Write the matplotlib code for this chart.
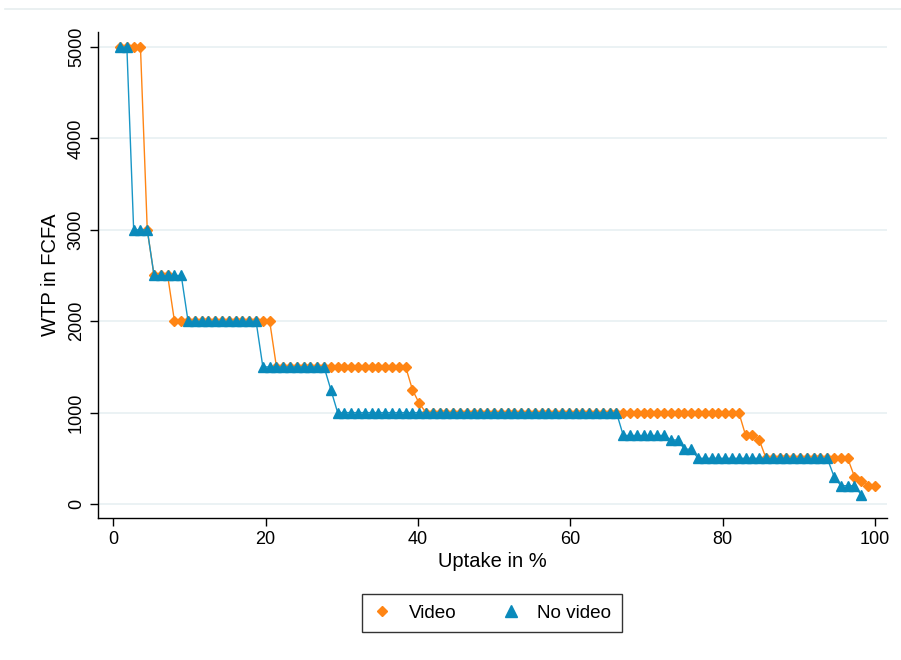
import numpy as np
import matplotlib.pyplot as plt
from matplotlib.lines import Line2D

plt.rcParams['font.family'] = ['Liberation Sans', 'DejaVu Sans']

# WTP levels (FCFA) and number of respondents at each level, sorted high to low
video_wtp = [5000, 3000, 2500, 2000, 1500, 1250, 1100, 1000, 750, 700, 500, 300, 250, 200]
video_n = [4, 1, 3, 15, 20, 1, 1, 47, 2, 1, 13, 1, 1, 2]

novideo_wtp = [5000, 3000, 2500, 2000, 1500, 1250, 1000, 750, 700, 600, 500, 300, 200, 100]
novideo_n = [2, 3, 5, 11, 10, 1, 42, 7, 2, 2, 20, 1, 3, 1]

sample_size = 112

ORANGE = '#ff8514'
BLUE = '#0a8abb'
BLUE_LINE = '#1896c6'


def demand_curve(levels, counts, total):
    wtp = np.repeat(levels, counts)
    uptake = np.arange(1, len(wtp) + 1) * 100.0 / total
    return uptake, wtp


x_v, y_v = demand_curve(video_wtp, video_n, sample_size)
x_nv, y_nv = demand_curve(novideo_wtp, novideo_n, sample_size)

fig = plt.figure(figsize=(9.01, 6.6), dpi=100)
ax = fig.add_axes([0.1088, 0.2152, 0.8757, 0.7363])

ax.plot(x_v, y_v, color=ORANGE, lw=1.0, marker='D', ms=5.5,
        mec=ORANGE, mfc=ORANGE, label='Video', zorder=3)
ax.plot(x_nv, y_nv, color=BLUE_LINE, lw=1.0, marker='^', ms=7.5,
        mec=BLUE, mfc=BLUE, label='No video', zorder=4)

ax.set_xlim(-2.0, 101.6)
ax.set_ylim(-153, 5164)
ax.set_xticks([0, 20, 40, 60, 80, 100])
ax.set_yticks([0, 1000, 2000, 3000, 4000, 5000])
ax.grid(axis='y', color='#e8f0f2', lw=1.2, zorder=0)
ax.set_axisbelow(True)

for side in ['top', 'right']:
    ax.spines[side].set_visible(False)
for side in ['left', 'bottom']:
    ax.spines[side].set_color('black')
    ax.spines[side].set_linewidth(1.0)

ax.tick_params(axis='both', direction='out', length=6, width=1.0,
               labelsize=13, colors='black')
plt.setp(ax.get_yticklabels(), rotation=90, va='center')

ax.set_xlabel('Uptake in %', fontsize=14.5, labelpad=3)
ax.set_ylabel('WTP in FCFA', fontsize=14.5, labelpad=6)

# thin rule across the top of the graph region
fig.add_artist(Line2D([0.005, 1.0], [0.986, 0.986], color='#e6eeef', lw=1.2))

handles = [
    Line2D([], [], ls='none', marker='D', ms=5, color=ORANGE),
    Line2D([], [], ls='none', marker='^', ms=8, color=BLUE),
]
leg = fig.legend(handles, ['Video', 'No video'], loc='center',
                 bbox_to_anchor=(0.546, 0.071), ncol=2, fontsize=13.6,
                 frameon=True, fancybox=False, edgecolor='black',
                 handlelength=1.0, handletextpad=0.9, columnspacing=2.4,
                 borderpad=0.55)
leg.get_frame().set_linewidth(1.0)

fig.savefig('out.png', dpi=100)
